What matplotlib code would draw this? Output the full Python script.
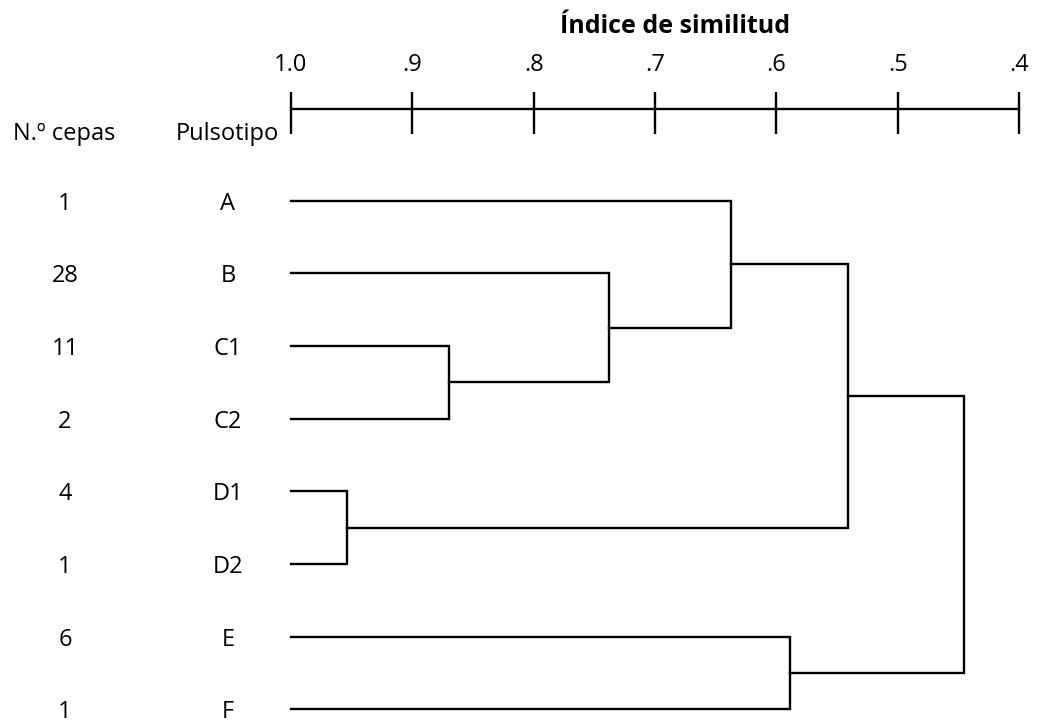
import matplotlib
matplotlib.use('Agg')
import matplotlib.pyplot as plt
import matplotlib.transforms as mtransforms

plt.rcParams['font.family'] = ['Open Sans', 'DejaVu Sans']

# leaves, top to bottom
pulsotipos = ['A', 'B', 'C1', 'C2', 'D1', 'D2', 'E', 'F']
n_cepas = [1, 28, 11, 2, 4, 1, 6, 1]

# merges: (node a, node b, similarity) ; new nodes numbered from 8
merges = [
    (2, 3, 0.870),   # C1 + C2
    (4, 5, 0.954),   # D1 + D2
    (1, 8, 0.738),   # B + C
    (0, 10, 0.637),  # A + (B,C)
    (6, 7, 0.589),   # E + F
    (11, 9, 0.541),  # (A,B,C) + D
    (13, 12, 0.445), # all
]

scale_ticks = [1.0, 0.9, 0.8, 0.7, 0.6, 0.5, 0.4]
scale_labels = ['1.0', '.9', '.8', '.7', '.6', '.5', '.4']

LW = 1.7
FS = 17

fig = plt.figure(figsize=(10.4, 7.2), dpi=100)
ax = fig.add_axes([291 / 1040, 1 - 709.3 / 720, 728 / 1040, 600.3 / 720])
ax.set_xlim(1.0, 0.4)
ax.set_ylim(7, -1.262)

# node positions
node_x = [1.0] * len(pulsotipos)
node_y = list(range(len(pulsotipos)))
for a, b, sim in merges:
    ax.plot([node_x[a], sim, sim, node_x[b]],
            [node_y[a], node_y[a], node_y[b], node_y[b]],
            color='black', lw=LW, solid_joinstyle='miter', clip_on=False)
    node_x.append(sim)
    node_y.append((node_y[a] + node_y[b]) / 2)

# similarity scale on top spine
for s in ['left', 'right', 'bottom']:
    ax.spines[s].set_visible(False)
ax.spines['top'].set_linewidth(LW)
ax.xaxis.tick_top()
ax.set_xticks(scale_ticks)
ax.set_xticklabels(scale_labels)
ax.set_xticks(scale_ticks, minor=True)
ax.xaxis.remove_overlapping_locs = False
ax.tick_params(axis='x', which='major', direction='out', length=12.2, width=LW,
               pad=11, labelsize=FS, top=True, bottom=False)
ax.tick_params(axis='x', which='minor', direction='in', length=18, width=LW,
               top=True, bottom=False)
ax.set_yticks([])

# leaf labels
trans = mtransforms.blended_transform_factory(fig.transFigure, ax.transData)
for i, (n, p) in enumerate(zip(n_cepas, pulsotipos)):
    ax.text(65 / 1040, i, str(n), transform=trans, ha='center',
            va='center_baseline', fontsize=FS)
    ax.text(228 / 1040, i, p, transform=trans, ha='center',
            va='center_baseline', fontsize=FS)

fig.text(64 / 1040, 1 - 140 / 720, 'N.º cepas', ha='center', va='baseline', fontsize=FS)
fig.text(227 / 1040, 1 - 140 / 720, 'Pulsotipo', ha='center', va='baseline', fontsize=FS)
fig.text(675 / 1040, 1 - 33 / 720, 'Índice de similitud', ha='center', va='baseline',
         fontsize=18, fontweight='bold')

fig.savefig('out.png', dpi=100, facecolor='white')
